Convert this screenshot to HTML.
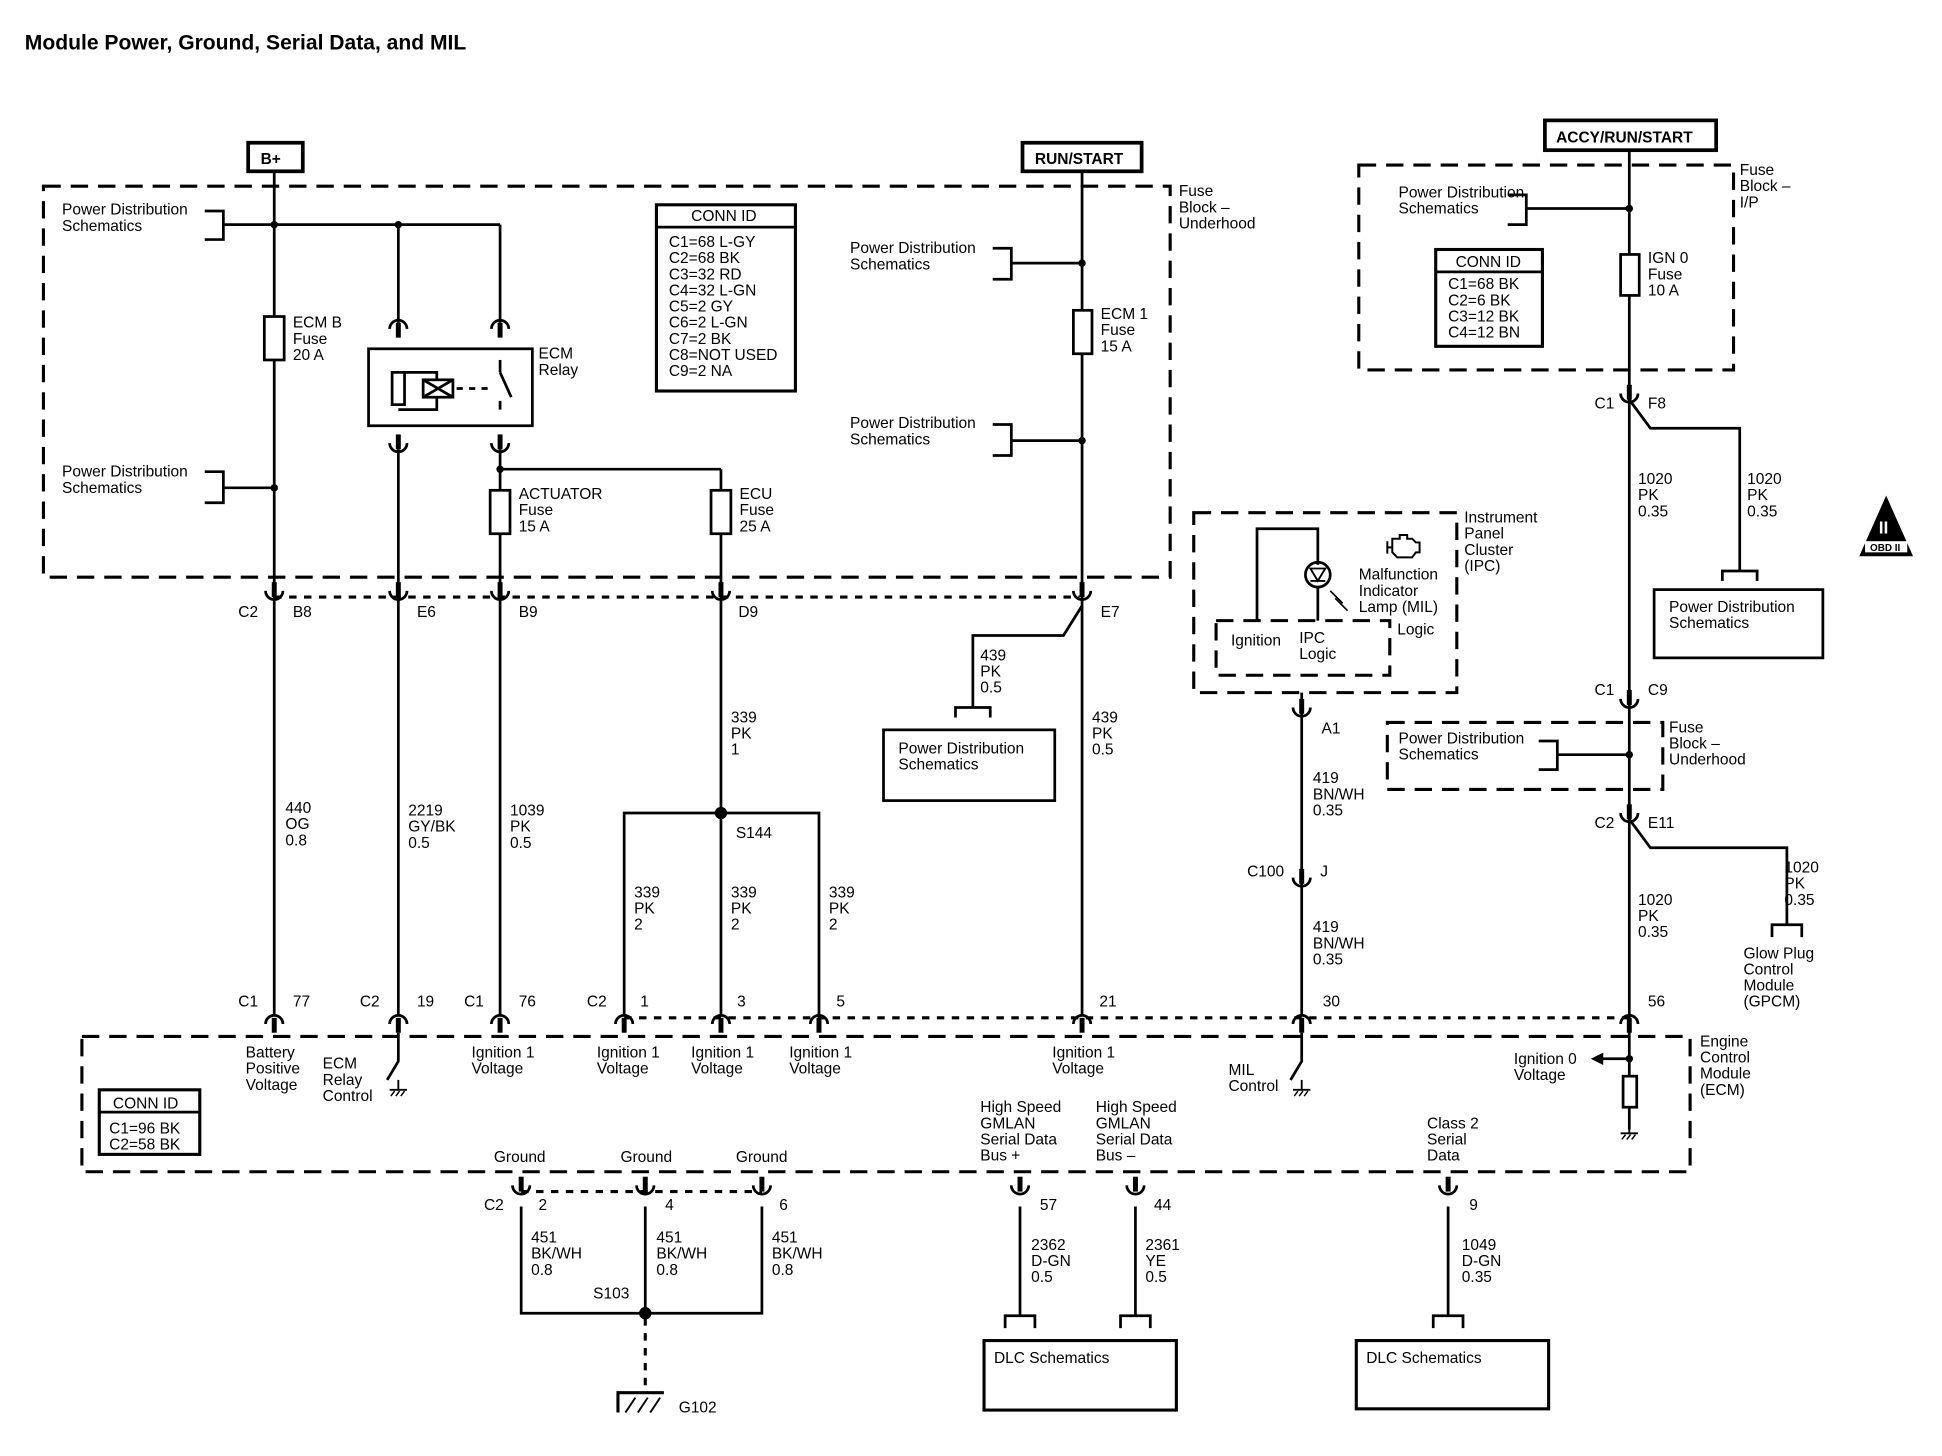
<!DOCTYPE html>
<html><head><meta charset="utf-8"><style>
html,body{margin:0;padding:0;background:#fff;}
svg{display:block;}
text{font-family:"Liberation Sans",Arial,sans-serif;font-size:12.5px;fill:#000;}
.b{font-weight:bold;}
</style></head><body>
<svg width="1942" height="1456" viewBox="0 0 1565 1173" preserveAspectRatio="none" xmlns="http://www.w3.org/2000/svg">
<defs>
<g id="cu"><path d="M-7 5 A7 7 0 0 1 7 5" fill="none" stroke="#000" stroke-width="2.2"/><line x1="0" y1="0" x2="0" y2="12" stroke="#000" stroke-width="4"/></g>
<g id="cd"><path d="M-7 -5 A7 7 0 0 0 7 -5" fill="none" stroke="#000" stroke-width="2.2"/><line x1="0" y1="0" x2="0" y2="-12" stroke="#000" stroke-width="4"/></g>
<g id="gnd"><line x1="0" y1="0" x2="0" y2="8" stroke="#000" stroke-width="1.5"/><line x1="-7" y1="8" x2="7" y2="8" stroke="#000" stroke-width="1.5"/><path d="M-6 13 L-3 9 M-2 13 L1 9 M2 13 L5 9" stroke="#000" stroke-width="1.2"/></g>
</defs>
<text x="20" y="40" class="b" style="font-size:17px">Module Power, Ground, Serial Data, and MIL</text>

<g fill="none" stroke="#000" stroke-width="2.2">
<rect x="200" y="115" width="44" height="23" stroke-width="3"/>
<rect x="824" y="115" width="96" height="23" stroke-width="3"/>
<rect x="1245" y="97" width="138" height="24" stroke-width="3"/>
<g stroke-dasharray="14,8" stroke-width="2.5">
<rect x="35" y="150" width="908" height="315"/>
<rect x="1095" y="133" width="302" height="165"/>
<rect x="962" y="413" width="212" height="145"/>
<rect x="1118" y="582" width="222" height="54"/>
<rect x="66" y="835" width="1296" height="109"/>
<rect x="980" y="500" width="140" height="44"/>
</g>
<g stroke-dasharray="6,6" stroke-width="2.5">
<line x1="221" y1="481" x2="870" y2="481"/>
<line x1="503" y1="820" x2="1313" y2="820"/>
<line x1="420" y1="960" x2="614" y2="960"/>
<line x1="520" y1="1062" x2="520" y2="1118"/>
</g>
<line x1="221" y1="138" x2="221" y2="818"/>
<rect x="213" y="255" width="16" height="35" fill="#fff"/>
<line x1="180" y1="181" x2="403" y2="181"/>
<path d="M165 170 H180 V193 H165"/>
<line x1="180" y1="393" x2="221" y2="393"/>
<path d="M165 380 H180 V405 H165"/>
<line x1="321" y1="181" x2="321" y2="260"/>
<line x1="403" y1="181" x2="403" y2="260"/>
<rect x="297" y="281" width="132" height="62"/>
<line x1="321" y1="362" x2="321" y2="818"/>
<line x1="403" y1="362" x2="403" y2="818"/>
<path d="M321 300 H352 V330 H321"/>
<rect x="316" y="300" width="10" height="26" fill="#fff"/>
<rect x="341" y="306" width="24" height="14" fill="#fff"/>
<path d="M341 306 L365 320 M341 320 L365 306"/>
<line x1="368" y1="313" x2="395" y2="313" stroke-dasharray="5,5"/>
<line x1="403" y1="300" x2="412" y2="320"/>
<line x1="403" y1="300" x2="403" y2="290"/><line x1="403" y1="323" x2="403" y2="330"/>
<line x1="403" y1="378" x2="581" y2="378"/>
<line x1="581" y1="378" x2="581" y2="655"/>
<rect x="395" y="395" width="16" height="35" fill="#fff"/>
<rect x="573" y="395" width="16" height="35" fill="#fff"/>
<path d="M503 818 V655 H660 V818"/>
<line x1="581" y1="655" x2="581" y2="818"/>
<line x1="872" y1="138" x2="872" y2="818"/>
<rect x="865" y="250" width="15" height="35" fill="#fff"/>
<line x1="815" y1="212" x2="872" y2="212"/><path d="M800 200 H815 V225 H800"/>
<line x1="815" y1="355" x2="872" y2="355"/><path d="M800 342 H815 V367 H800"/>
<path d="M872 488 L857 512 H784 V570"/>
<path d="M770 578 V570 H798 V578"/>
<rect x="712" y="588" width="138" height="57"/>
<path d="M1013 500 V426 H1062 V455"/>
<circle cx="1062" cy="463" r="10"/>
<path d="M1056 458 H1068 L1062 468 Z M1056 468 H1068" stroke-width="1.5"/>
<path d="M1062 473 V500"/>
<path d="M1072 476 L1082 486 M1076 482 L1086 492" stroke-width="1.3"/>
<path d="M1118 436 V446 M1118 441 H1122 M1122 434 H1128 V431 H1134 V434 H1138 L1141 437 H1144 V445 H1141 L1138 449 H1126 L1122 445 Z" stroke-width="1.6"/>
<line x1="1049" y1="558" x2="1049" y2="818"/>
<line x1="1313" y1="121" x2="1313" y2="910"/>
<rect x="1306" y="205" width="15" height="33" fill="#fff"/>
<line x1="1230" y1="168" x2="1313" y2="168"/><path d="M1215 157 H1230 V181 H1215"/>
<path d="M1313 322 L1330 345 H1402 V460"/>
<path d="M1388 468 V460 H1416 V468"/>
<rect x="1333" y="475" width="136" height="55"/>
<line x1="1255" y1="608" x2="1313" y2="608"/><path d="M1240 597 H1255 V620 H1240"/>
<path d="M1313 660 L1330 683 H1440 V745"/>
<path d="M1428 755 V745 H1452 V755"/>
<line x1="1313" y1="853" x2="1290" y2="853"/>
<rect x="1308" y="867" width="11" height="25" fill="#fff"/>
<path d="M321 832 V855 L312 870"/>
<path d="M1049 832 V855 L1040 870"/>
<path d="M420 972 V1058 H614 V972"/>
<line x1="520" y1="972" x2="520" y2="1058"/>
<path d="M498 1138 V1122 H535" stroke-width="2.5"/>
<path d="M504 1138 L512 1126 M514 1138 L522 1126 M524 1138 L532 1126" stroke-width="1.5"/>
<line x1="822" y1="972" x2="822" y2="1060"/>
<line x1="915" y1="972" x2="915" y2="1060"/>
<line x1="1167" y1="972" x2="1167" y2="1060"/>
<path d="M810 1070 V1060 H834 V1070"/>
<path d="M903 1070 V1060 H927 V1070"/>
<path d="M1155 1070 V1060 H1179 V1070"/>
<rect x="793" y="1080" width="155" height="56" stroke-width="2.5"/>
<rect x="1093" y="1080" width="155" height="55" stroke-width="2.5"/>
<rect x="529" y="165" width="112" height="150" stroke-width="2.5"/><line x1="529" y1="183" x2="641" y2="183"/>
<rect x="1157" y="201" width="86" height="78" stroke-width="2.5"/><line x1="1157" y1="219" x2="1243" y2="219"/>
<rect x="80" y="878" width="81" height="52" stroke-width="2.5"/><line x1="80" y1="896" x2="161" y2="896"/>
<path d="M1520 402 L1540 447 H1500 Z" fill="#000"/>
</g>
<polygon points="1282,853 1292,848 1292,858" fill="#000"/>
<rect x="1503" y="436" width="34" height="9" fill="#fff"/>
<text x="1507" y="444" style="font-size:8px" class="b">OBD II</text>
<text x="1514" y="430" style="font-size:14px;fill:#fff" class="b">II</text>
<g fill="#000"><circle cx="221" cy="181" r="3"/><circle cx="321" cy="181" r="3"/><circle cx="221" cy="393" r="3"/><circle cx="403" cy="378" r="3"/><circle cx="872" cy="212" r="3"/><circle cx="872" cy="355" r="3"/><circle cx="581" cy="655" r="5"/><circle cx="520" cy="1058" r="5"/><circle cx="1313" cy="168" r="3"/><circle cx="1313" cy="608" r="3"/><circle cx="1313" cy="853" r="3"/></g>
<g fill="none" stroke="#000" stroke-width="1.5"><use href="#gnd" x="321" y="870"/><use href="#gnd" x="1049" y="870"/><use href="#gnd" x="1313" y="905"/></g>
<use href="#cu" x="321" y="260"/><use href="#cu" x="403" y="260"/>
<use href="#cd" x="321" y="362"/><use href="#cd" x="403" y="362"/>
<use href="#cd" x="221" y="481"/><use href="#cd" x="321" y="481"/><use href="#cd" x="403" y="481"/><use href="#cd" x="581" y="481"/><use href="#cd" x="872" y="481"/>
<use href="#cu" x="221" y="820"/><use href="#cu" x="321" y="820"/><use href="#cu" x="403" y="820"/><use href="#cu" x="503" y="820"/><use href="#cu" x="581" y="820"/><use href="#cu" x="660" y="820"/><use href="#cu" x="872" y="820"/><use href="#cu" x="1049" y="820"/><use href="#cu" x="1313" y="820"/>
<use href="#cd" x="420" y="960"/><use href="#cd" x="520" y="960"/><use href="#cd" x="614" y="960"/><use href="#cd" x="822" y="960"/><use href="#cd" x="915" y="960"/><use href="#cd" x="1167" y="960"/>
<use href="#cd" x="1049" y="575"/><use href="#cd" x="1049" y="712"/>
<use href="#cd" x="1313" y="322"/><use href="#cd" x="1313" y="568"/><use href="#cd" x="1313" y="660"/>

<text x="210" y="132" class="b">B+</text>
<text x="834" y="132" class="b">RUN/START</text>
<text x="1254" y="115" class="b">ACCY/RUN/START</text>
<text x="50" y="173">Power Distribution</text><text x="50" y="186">Schematics</text>
<text x="50" y="384">Power Distribution</text><text x="50" y="397">Schematics</text>
<text x="236" y="264">ECM B</text><text x="236" y="277">Fuse</text><text x="236" y="290">20 A</text>
<text x="434" y="289">ECM</text><text x="434" y="302">Relay</text>
<text x="418" y="402">ACTUATOR</text><text x="418" y="415">Fuse</text><text x="418" y="428">15 A</text>
<text x="596" y="402">ECU</text><text x="596" y="415">Fuse</text><text x="596" y="428">25 A</text>
<text x="557" y="178">CONN ID</text>
<text x="539" y="199">C1=68 L-GY</text><text x="539" y="212">C2=68 BK</text><text x="539" y="225">C3=32 RD</text><text x="539" y="238">C4=32 L-GN</text><text x="539" y="251">C5=2 GY</text><text x="539" y="264">C6=2 L-GN</text><text x="539" y="277">C7=2 BK</text><text x="539" y="290">C8=NOT USED</text><text x="539" y="303">C9=2 NA</text>
<text x="685" y="204">Power Distribution</text><text x="685" y="217">Schematics</text>
<text x="685" y="345">Power Distribution</text><text x="685" y="358">Schematics</text>
<text x="887" y="257">ECM 1</text><text x="887" y="270">Fuse</text><text x="887" y="283">15 A</text>
<text x="950" y="158">Fuse</text><text x="950" y="171">Block –</text><text x="950" y="184">Underhood</text>
<text x="1127" y="159">Power Distribution</text><text x="1127" y="172">Schematics</text>
<text x="1402" y="141">Fuse</text><text x="1402" y="154">Block –</text><text x="1402" y="167">I/P</text>
<text x="1173" y="215">CONN ID</text>
<text x="1167" y="233">C1=68 BK</text><text x="1167" y="246">C2=6 BK</text><text x="1167" y="259">C3=12 BK</text><text x="1167" y="272">C4=12 BN</text>
<text x="1328" y="212">IGN 0</text><text x="1328" y="225">Fuse</text><text x="1328" y="238">10 A</text>
<text x="1285" y="329">C1</text><text x="1328" y="329">F8</text>
<text x="1320" y="390">1020</text><text x="1320" y="403">PK</text><text x="1320" y="416">0.35</text>
<text x="1408" y="390">1020</text><text x="1408" y="403">PK</text><text x="1408" y="416">0.35</text>
<text x="1345" y="493">Power Distribution</text><text x="1345" y="506">Schematics</text>
<text x="1285" y="560">C1</text><text x="1328" y="560">C9</text>
<text x="1345" y="590">Fuse</text><text x="1345" y="603">Block –</text><text x="1345" y="616">Underhood</text>
<text x="1127" y="599">Power Distribution</text><text x="1127" y="612">Schematics</text>
<text x="1285" y="667">C2</text><text x="1328" y="667">E11</text>
<text x="1438" y="703">1020</text><text x="1438" y="716">PK</text><text x="1438" y="729">0.35</text>
<text x="1320" y="729">1020</text><text x="1320" y="742">PK</text><text x="1320" y="755">0.35</text>
<text x="1405" y="772">Glow Plug</text><text x="1405" y="785">Control</text><text x="1405" y="798">Module</text><text x="1405" y="811">(GPCM)</text>
<text x="1328" y="811">56</text>
<text x="1370" y="843">Engine</text><text x="1370" y="856">Control</text><text x="1370" y="869">Module</text><text x="1370" y="882">(ECM)</text>
<text x="1220" y="857">Ignition 0</text><text x="1220" y="870">Voltage</text>
<text x="1180" y="421">Instrument</text><text x="1180" y="434">Panel</text><text x="1180" y="447">Cluster</text><text x="1180" y="460">(IPC)</text>
<text x="1095" y="467">Malfunction</text><text x="1095" y="480">Indicator</text><text x="1095" y="493">Lamp (MIL)</text>
<text x="1126" y="511">Logic</text>
<text x="992" y="520">Ignition</text><text x="1047" y="518">IPC</text><text x="1047" y="531">Logic</text>
<text x="1065" y="591">A1</text>
<text x="1058" y="631">419</text><text x="1058" y="644">BN/WH</text><text x="1058" y="657">0.35</text>
<text x="1005" y="706">C100</text><text x="1064" y="706">J</text>
<text x="1058" y="751">419</text><text x="1058" y="764">BN/WH</text><text x="1058" y="777">0.35</text>
<text x="1066" y="811">30</text>
<text x="990" y="866">MIL</text><text x="990" y="879">Control</text>
<text x="192" y="497">C2</text><text x="236" y="497">B8</text><text x="336" y="497">E6</text><text x="418" y="497">B9</text><text x="595" y="497">D9</text><text x="887" y="497">E7</text>
<text x="790" y="532">439</text><text x="790" y="545">PK</text><text x="790" y="558">0.5</text>
<text x="724" y="607">Power Distribution</text><text x="724" y="620">Schematics</text>
<text x="880" y="582">439</text><text x="880" y="595">PK</text><text x="880" y="608">0.5</text>
<text x="589" y="582">339</text><text x="589" y="595">PK</text><text x="589" y="608">1</text>
<text x="593" y="675">S144</text>
<text x="230" y="655">440</text><text x="230" y="668">OG</text><text x="230" y="681">0.8</text>
<text x="329" y="657">2219</text><text x="329" y="670">GY/BK</text><text x="329" y="683">0.5</text>
<text x="411" y="657">1039</text><text x="411" y="670">PK</text><text x="411" y="683">0.5</text>
<text x="511" y="723">339</text><text x="511" y="736">PK</text><text x="511" y="749">2</text>
<text x="589" y="723">339</text><text x="589" y="736">PK</text><text x="589" y="749">2</text>
<text x="668" y="723">339</text><text x="668" y="736">PK</text><text x="668" y="749">2</text>
<text x="192" y="811">C1</text><text x="236" y="811">77</text><text x="290" y="811">C2</text><text x="336" y="811">19</text><text x="374" y="811">C1</text><text x="418" y="811">76</text>
<text x="473" y="811">C2</text><text x="516" y="811">1</text><text x="594" y="811">3</text><text x="674" y="811">5</text><text x="886" y="811">21</text>
<text x="198" y="852">Battery</text><text x="198" y="865">Positive</text><text x="198" y="878">Voltage</text>
<text x="260" y="861">ECM</text><text x="260" y="874">Relay</text><text x="260" y="887">Control</text>
<text x="380" y="852">Ignition 1</text><text x="380" y="865">Voltage</text>
<text x="481" y="852">Ignition 1</text><text x="481" y="865">Voltage</text>
<text x="557" y="852">Ignition 1</text><text x="557" y="865">Voltage</text>
<text x="636" y="852">Ignition 1</text><text x="636" y="865">Voltage</text>
<text x="848" y="852">Ignition 1</text><text x="848" y="865">Voltage</text>
<text x="91" y="893">CONN ID</text>
<text x="88" y="913">C1=96 BK</text><text x="88" y="926">C2=58 BK</text>
<text x="790" y="896">High Speed</text><text x="790" y="909">GMLAN</text><text x="790" y="922">Serial Data</text><text x="790" y="935">Bus +</text>
<text x="883" y="896">High Speed</text><text x="883" y="909">GMLAN</text><text x="883" y="922">Serial Data</text><text x="883" y="935">Bus –</text>
<text x="1150" y="909">Class 2</text><text x="1150" y="922">Serial</text><text x="1150" y="935">Data</text>
<text x="398" y="936">Ground</text><text x="500" y="936">Ground</text><text x="593" y="936">Ground</text>
<text x="390" y="975">C2</text><text x="434" y="975">2</text><text x="536" y="975">4</text><text x="628" y="975">6</text>
<text x="838" y="975">57</text><text x="930" y="975">44</text><text x="1184" y="975">9</text>
<text x="428" y="1001">451</text><text x="428" y="1014">BK/WH</text><text x="428" y="1027">0.8</text>
<text x="529" y="1001">451</text><text x="529" y="1014">BK/WH</text><text x="529" y="1027">0.8</text>
<text x="622" y="1001">451</text><text x="622" y="1014">BK/WH</text><text x="622" y="1027">0.8</text>
<text x="478" y="1046">S103</text>
<text x="547" y="1138">G102</text>
<text x="831" y="1007">2362</text><text x="831" y="1020">D-GN</text><text x="831" y="1033">0.5</text>
<text x="923" y="1007">2361</text><text x="923" y="1020">YE</text><text x="923" y="1033">0.5</text>
<text x="1178" y="1007">1049</text><text x="1178" y="1020">D-GN</text><text x="1178" y="1033">0.35</text>
<text x="801" y="1098">DLC Schematics</text>
<text x="1101" y="1098">DLC Schematics</text>
</svg>
</body></html>
